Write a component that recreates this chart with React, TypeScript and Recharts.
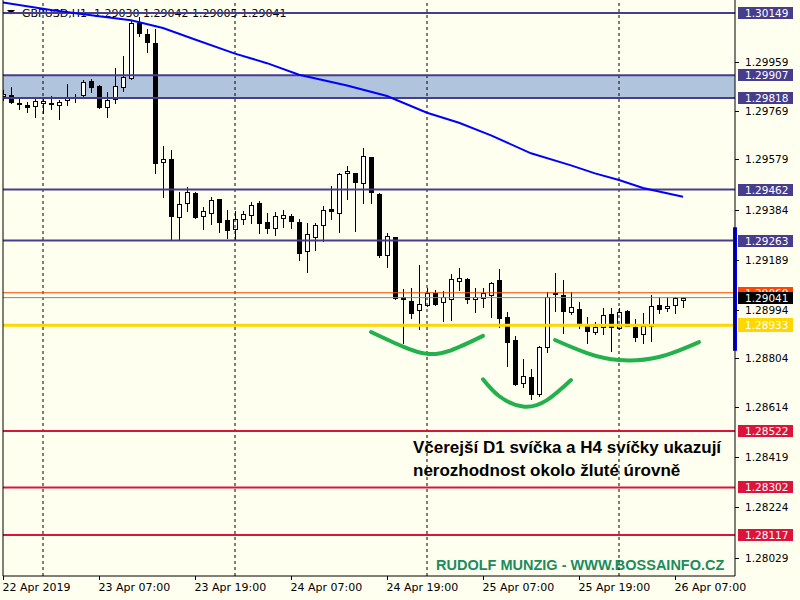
import React from 'react';
import { ComposedChart, XAxis, YAxis, Bar, Line, ReferenceLine, ReferenceArea, Customized } from 'recharts';

// ---- data (GBPUSD, H1, 22 Apr 2019 19:00 -> 26 Apr 2019 08:00) ----
const SYMBOL = 'GBPUSD';
const TIMEFRAME = 'H1';

const OPEN = [
  1.29826, 1.29829, 1.29797, 1.29790, 1.29786, 1.29797, 1.29797, 1.29790, 1.29810, 1.29822,
  1.29829, 1.29883, 1.29864, 1.29784, 1.29813, 1.29862, 1.29895, 1.30111, 1.30067, 1.30031,
  1.29570, 1.29579, 1.29356, 1.29410, 1.29449, 1.29360, 1.29372, 1.29425, 1.29343, 1.29309,
  1.29348, 1.29361, 1.29410, 1.29335, 1.29311, 1.29350, 1.29358, 1.29335, 1.29222, 1.29278,
  1.29322, 1.29386, 1.29369, 1.29525, 1.29525, 1.29486, 1.29588, 1.29444, 1.29206, 1.29276,
  1.29042, 1.29028, 1.28992, 1.29011, 1.29058, 1.29023, 1.29034, 1.29104, 1.29112, 1.29034,
  1.29038, 1.29050, 1.29108, 1.28964, 1.28876, 1.28707, 1.28731, 1.28665, 1.28848, 1.29058,
  1.29051, 1.28986, 1.28996, 1.28934, 1.28908, 1.28925, 1.28977, 1.28922, 1.28989, 1.28925,
  1.28898, 1.28932, 1.29012, 1.28999, 1.29011, 1.29030,
];
const HIGH = [
  1.29849, 1.29860, 1.29819, 1.29804, 1.29814, 1.29819, 1.29826, 1.29810, 1.29873, 1.29833,
  1.29888, 1.29891, 1.29869, 1.29843, 1.29934, 1.29982, 1.30119, 1.30135, 1.30089, 1.30089,
  1.29632, 1.29616, 1.29451, 1.29473, 1.29451, 1.29395, 1.29434, 1.29427, 1.29382, 1.29378,
  1.29379, 1.29412, 1.29417, 1.29369, 1.29373, 1.29382, 1.29365, 1.29346, 1.29333, 1.29333,
  1.29398, 1.29476, 1.29525, 1.29554, 1.29527, 1.29625, 1.29590, 1.29449, 1.29294, 1.29278,
  1.29075, 1.29077, 1.29168, 1.29077, 1.29071, 1.29068, 1.29133, 1.29155, 1.29116, 1.29077,
  1.29077, 1.29101, 1.29151, 1.28986, 1.28892, 1.28802, 1.28763, 1.28853, 1.29064, 1.29136,
  1.29110, 1.29064, 1.29025, 1.28964, 1.28947, 1.28999, 1.28999, 1.28999, 1.28993, 1.28957,
  1.28982, 1.29051, 1.29045, 1.29042, 1.29042, 1.29042,
];
const LOW = [
  1.29810, 1.29797, 1.29774, 1.29764, 1.29745, 1.29759, 1.29774, 1.29735, 1.29790, 1.29801,
  1.29826, 1.29843, 1.29780, 1.29743, 1.29797, 1.29847, 1.29893, 1.30059, 1.29998, 1.29525,
  1.29434, 1.29268, 1.29268, 1.29379, 1.29350, 1.29309, 1.29326, 1.29298, 1.29274, 1.29269,
  1.29326, 1.29333, 1.29294, 1.29291, 1.29285, 1.29317, 1.29313, 1.29187, 1.29140, 1.29226,
  1.29261, 1.29348, 1.29295, 1.29424, 1.29300, 1.29408, 1.29408, 1.29200, 1.29159, 1.29034,
  1.28865, 1.28963, 1.28918, 1.29008, 1.29012, 1.28950, 1.28954, 1.29071, 1.29019, 1.28986,
  1.29006, 1.28967, 1.28928, 1.28775, 1.28702, 1.28694, 1.28647, 1.28658, 1.28830, 1.28990,
  1.28902, 1.28977, 1.28922, 1.28863, 1.28899, 1.28899, 1.28834, 1.28920, 1.28930, 1.28873,
  1.28865, 1.28873, 1.28980, 1.28990, 1.28980, 1.29005,
];
const CLOSE = [
  1.29833, 1.29801, 1.29795, 1.29782, 1.29805, 1.29806, 1.29795, 1.29801, 1.29817, 1.29824,
  1.29879, 1.29860, 1.29784, 1.29810, 1.29864, 1.29899, 1.30111, 1.30070, 1.30037, 1.29566,
  1.29579, 1.29359, 1.29404, 1.29451, 1.29354, 1.29378, 1.29420, 1.29336, 1.29304, 1.29347,
  1.29365, 1.29402, 1.29330, 1.29313, 1.29358, 1.29361, 1.29338, 1.29213, 1.29287, 1.29322,
  1.29381, 1.29377, 1.29521, 1.29534, 1.29490, 1.29591, 1.29451, 1.29207, 1.29282, 1.29038,
  1.29034, 1.28982, 1.29016, 1.29058, 1.29015, 1.29042, 1.29112, 1.29116, 1.29034, 1.29042,
  1.29058, 1.29099, 1.28963, 1.28869, 1.28704, 1.28735, 1.28665, 1.28850, 1.29045, 1.29054,
  1.28990, 1.29003, 1.28934, 1.28912, 1.28925, 1.28973, 1.28925, 1.28985, 1.28932, 1.28889,
  1.28929, 1.29007, 1.28996, 1.29007, 1.29038, 1.29041,
];

// moving average, read at selected bars: [bar index, value]
const MA_POINTS: [number, number][] = [
  [0, 1.30190], [6, 1.30161], [12, 1.30137], [16, 1.30121], [20, 1.30091], [24, 1.30046],
  [29, 1.29991], [33, 1.29954], [37, 1.29909], [43, 1.29867], [48, 1.29826], [53, 1.29761],
  [57, 1.29722], [61, 1.29673], [66, 1.29603], [71, 1.29556], [74, 1.29525], [77, 1.29499],
  [80, 1.29468], [85, 1.29434],
];

// hand-drawn arcs: [bar index, price]
const ARC_LEFT: [number, number][] = [[46, 1.28907], [50, 1.28850], [53, 1.28822], [56, 1.28836], [60, 1.28892]];
const ARC_MID: [number, number][] = [[60, 1.28723], [62, 1.28658], [65, 1.28617], [68, 1.28642], [71, 1.28720]];
const ARC_RIGHT: [number, number][] = [[69, 1.28876], [73, 1.28825], [77, 1.28798], [82, 1.28810], [87, 1.28868]];

const TIME_TICKS = [0, 12, 24, 36, 48, 60, 72, 84];
const TIME_LABELS = ['22 Apr 2019', '23 Apr 07:00', '23 Apr 19:00', '24 Apr 07:00', '24 Apr 19:00', '25 Apr 07:00', '25 Apr 19:00', '26 Apr 07:00'];
const DAY_BREAKS = [5, 29, 53, 77];

const PRICE_TICKS = [1.29959, 1.29769, 1.29579, 1.29384, 1.29189, 1.28994, 1.28804, 1.28614, 1.28419, 1.28224, 1.28029];
const SLATE_LEVELS = [1.30149, 1.29462, 1.29263];
const ZONE = [1.29818, 1.29907];
const RED_LEVELS = [1.28522, 1.28302, 1.28117];
const GOLD_LEVEL = 1.28933;
const ASK_LEVEL = 1.29060;
const BID_LEVEL = 1.29041;
const RANGE_BAR = [1.28834, 1.29315];

const Y_DOMAIN: [number, number] = [1.27957, 1.302];
const X_DOMAIN: [number, number] = [0, 91.5];

const COLORS = {
  bg: '#FFFFF0',
  slate: '#483D8B',
  zone: '#B0C4DE',
  red: '#DC143C',
  gold: '#FFD700',
  ask: '#FF4500',
  bid: '#778899',
  ma: '#0000FF',
  arc: '#22B14C',
  footer: '#1B8C5E',
};

const chartData = OPEN.map((o, i) => {
  const ma = MA_POINTS.find((p) => p[0] === i);
  return { i, o, h: HIGH[i], l: LOW[i], c: CLOSE[i], range: [LOW[i], HIGH[i]], ma: ma ? ma[1] : null };
});
const toLine = (pts: [number, number][]) => pts.map(([i, v]) => ({ i, v }));

const boxColor = (v: number): string | null => {
  if (SLATE_LEVELS.includes(v) || ZONE.includes(v)) return COLORS.slate;
  if (RED_LEVELS.includes(v)) return COLORS.red;
  if (v === GOLD_LEVEL) return COLORS.gold;
  if (v === ASK_LEVEL) return COLORS.ask;
  if (v === BID_LEVEL) return '#000000';
  return null;
};

const Y_TICKS = [
  ...PRICE_TICKS,
  ...SLATE_LEVELS,
  ...ZONE,
  ...RED_LEVELS,
  GOLD_LEVEL,
  ASK_LEVEL,
  BID_LEVEL,
];

const FONT = 'DejaVu Sans, Verdana, sans-serif';

const PriceTick = (props: any) => {
  const { x, y, payload } = props;
  const v = payload.value as number;
  const col = boxColor(v);
  const label = v.toFixed(5);
  if (col) {
    const h = v === GOLD_LEVEL ? 14 : 12;
    return (
      <g>
        <rect x={x + 3} y={Math.round(y - h / 2)} width={55} height={h} fill={col} />
        <text x={x + 10} y={y + 4} fill="#FFFFFF" fontSize={10.5} fontFamily={FONT}>{label}</text>
      </g>
    );
  }
  return (
    <g>
      <line x1={x} x2={x + 4} y1={Math.round(y) + 0.5} y2={Math.round(y) + 0.5} stroke="#000" />
      <text x={x + 10} y={y + 4} fill="#000" fontSize={10.5} fontFamily={FONT}>{label}</text>
    </g>
  );
};

const TimeTick = (props: any) => {
  const { x, y, payload } = props;
  const idx = TIME_TICKS.indexOf(payload.value);
  const px = Math.round(x) + 0.5;
  return (
    <g>
      <line x1={px} x2={px} y1={y} y2={y + 4} stroke="#000" />
      <text x={x - 0.5} y={y + 15} fill="#000" fontSize={11} fontFamily={FONT}>{TIME_LABELS[idx]}</text>
    </g>
  );
};

const Candle = (props: any) => {
  const { x, y, width, height, payload } = props;
  if (x == null || y == null || payload == null) return null;
  const { o, h, l, c } = payload;
  const top = Math.min(y, y + height);
  const bot = Math.max(y, y + height);
  const span = h - l;
  const py = (v: number) => (span > 0 ? top + ((h - v) / span) * (bot - top) : top);
  const cx = Math.round(x + width / 2 + 0.01);
  const yo = Math.round(py(o));
  const yc = Math.round(py(c));
  const bTop = Math.min(yo, yc);
  const bBot = Math.max(yo, yc);
  const bull = c >= o;
  return (
    <g shapeRendering="crispEdges">
      <line x1={cx + 0.5} x2={cx + 0.5} y1={Math.round(top)} y2={Math.round(bot) + 1} stroke="#000" strokeWidth={1} />
      {bBot - bTop >= 1 ? (
        <rect x={cx - 1.5} y={bTop + 0.5} width={4} height={bBot - bTop} fill={bull ? '#FFFFFF' : '#000000'} stroke="#000" strokeWidth={1} />
      ) : (
        <line x1={cx - 2} x2={cx + 3} y1={bTop + 0.5} y2={bTop + 0.5} stroke="#000" strokeWidth={1} />
      )}
    </g>
  );
};

const last = OPEN.length - 1;
const Header = () => (
  <g>
    <polygon points="7,10 15,10 11,14.5" fill="#000" />
    <text x={22} y={17} fontSize={11} fontFamily={FONT} fill="#000" style={{ whiteSpace: 'pre' }}>
      {`${SYMBOL},${TIMEFRAME}  ${OPEN[last].toFixed(5)} ${HIGH[last].toFixed(5)} ${LOW[last].toFixed(5)} ${CLOSE[last].toFixed(5)}`}
    </text>
  </g>
);

const Notes = () => (
  <g fontFamily="Liberation Sans, Arial, sans-serif" fontWeight="bold">
    <text x={413} y={453} fontSize={17} fill="#000">Včerejší D1 svíčka a H4 svíčky ukazují</text>
    <text x={413} y={476} fontSize={17} fill="#000">nerozhodnost okolo žluté úrovně</text>
    <text x={436} y={570} fontSize={14.5} fill={COLORS.footer}>RUDOLF MUNZIG - WWW.BOSSAINFO.CZ</text>
  </g>
);

export default function App() {
  return (
    <div style={{ position: 'absolute', left: 0, top: 0, width: 800, height: 600, background: COLORS.bg }}>
      <ComposedChart width={800} height={600} data={chartData} margin={{ top: 0, right: 0, bottom: 0, left: 3 }}>
        <XAxis
          dataKey="i"
          type="number"
          domain={X_DOMAIN}
          allowDataOverflow
          ticks={TIME_TICKS}
          interval={0}
          height={24}
          tickSize={0}
          tickMargin={0}
          tick={<TimeTick />}
          axisLine={{ stroke: '#000' }}
          tickLine={false}
        />
        <YAxis
          orientation="right"
          type="number"
          domain={Y_DOMAIN}
          allowDataOverflow
          ticks={Y_TICKS}
          interval={0}
          width={65}
          tickSize={0}
          tickMargin={0}
          tick={<PriceTick />}
          axisLine={{ stroke: '#000' }}
          tickLine={false}
        />
        <Customized component={Header} />
        <ReferenceArea y1={ZONE[0]} y2={ZONE[1]} fill={COLORS.zone} fillOpacity={1} stroke="none" />
        {DAY_BREAKS.map((d) => (
          <ReferenceLine key={`d${d}`} x={d} stroke="#000" strokeDasharray="3 3" strokeWidth={1} />
        ))}
        {[...SLATE_LEVELS, ...ZONE].map((v) => (
          <ReferenceLine key={`s${v}`} y={v} stroke={COLORS.slate} strokeWidth={2} />
        ))}
        {RED_LEVELS.map((v) => (
          <ReferenceLine key={`r${v}`} y={v} stroke={COLORS.red} strokeWidth={2} />
        ))}
        <ReferenceLine y={ASK_LEVEL} stroke={COLORS.ask} strokeWidth={1} />
        <ReferenceLine y={BID_LEVEL} stroke={COLORS.bid} strokeWidth={1} />
        <ReferenceLine y={GOLD_LEVEL} stroke={COLORS.gold} strokeWidth={3} />
        <Bar dataKey="range" barSize={5} shape={Candle} isAnimationActive={false} />
        <Line dataKey="ma" stroke={COLORS.ma} strokeWidth={2} dot={false} activeDot={false} connectNulls isAnimationActive={false} />
        <Line data={toLine(ARC_LEFT)} dataKey="v" type="natural" stroke={COLORS.arc} strokeWidth={4} strokeLinecap="round" dot={false} activeDot={false} isAnimationActive={false} />
        <Line data={toLine(ARC_MID)} dataKey="v" type="natural" stroke={COLORS.arc} strokeWidth={4} strokeLinecap="round" dot={false} activeDot={false} isAnimationActive={false} />
        <Line data={toLine(ARC_RIGHT)} dataKey="v" type="natural" stroke={COLORS.arc} strokeWidth={4} strokeLinecap="round" dot={false} activeDot={false} isAnimationActive={false} />
        <Customized component={Notes} />
        <ReferenceLine x={0} stroke="#000" strokeWidth={1} />
        <ReferenceLine
          segment={[{ x: X_DOMAIN[1], y: RANGE_BAR[0] }, { x: X_DOMAIN[1], y: RANGE_BAR[1] }]}
          stroke={COLORS.ma}
          strokeWidth={4}
          ifOverflow="visible"
        />
      </ComposedChart>
    </div>
  );
}
